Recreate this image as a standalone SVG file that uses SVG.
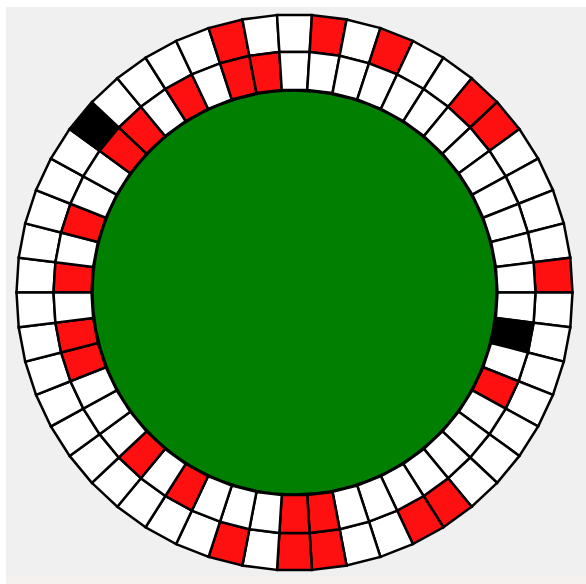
<svg xmlns="http://www.w3.org/2000/svg" xmlns:xlink="http://www.w3.org/1999/xlink" width="586" height="584" viewBox="0 0 586 584">
<style>
.c{stroke:#000;stroke-width:2.5;stroke-linejoin:miter}
.w{fill:#ffffff}
.r{fill:#ff1010}
.b{fill:#000000}
</style>
<defs>
<polygon id="o" points="241,0 278,0 275.808,34.843 239.100,30.205"/>
<polygon id="i" points="203,0 241,0 239.100,30.205 201.399,25.443"/>
</defs>
<rect x="0" y="0" width="586" height="584" fill="#ffffff"/>
<rect x="6" y="7" width="580" height="570" fill="#f0f0f0"/>
<rect x="6" y="577" width="580" height="7" fill="#f4f1ee"/>
<g id="board" transform="translate(294.5,292.5)">
<g id="outer-ring">
<use xlink:href="#o" class="c w" transform="rotate(180)"/>
<use xlink:href="#o" class="c w" transform="rotate(187.2)"/>
<use xlink:href="#o" class="c w" transform="rotate(194.4)"/>
<use xlink:href="#o" class="c w" transform="rotate(201.6)"/>
<use xlink:href="#o" class="c w" transform="rotate(208.8)"/>
<use xlink:href="#o" class="c b" transform="rotate(216)"/>
<use xlink:href="#o" class="c w" transform="rotate(223.2)"/>
<use xlink:href="#o" class="c w" transform="rotate(230.4)"/>
<use xlink:href="#o" class="c w" transform="rotate(237.6)"/>
<use xlink:href="#o" class="c w" transform="rotate(244.8)"/>
<use xlink:href="#o" class="c r" transform="rotate(252)"/>
<use xlink:href="#o" class="c w" transform="rotate(259.2)"/>
<use xlink:href="#o" class="c w" transform="rotate(266.4)"/>
<use xlink:href="#o" class="c r" transform="rotate(273.6)"/>
<use xlink:href="#o" class="c w" transform="rotate(280.8)"/>
<use xlink:href="#o" class="c r" transform="rotate(288)"/>
<use xlink:href="#o" class="c w" transform="rotate(295.2)"/>
<use xlink:href="#o" class="c w" transform="rotate(302.4)"/>
<use xlink:href="#o" class="c r" transform="rotate(309.6)"/>
<use xlink:href="#o" class="c r" transform="rotate(316.8)"/>
<use xlink:href="#o" class="c w" transform="rotate(324)"/>
<use xlink:href="#o" class="c w" transform="rotate(331.2)"/>
<use xlink:href="#o" class="c w" transform="rotate(338.4)"/>
<use xlink:href="#o" class="c w" transform="rotate(345.6)"/>
<use xlink:href="#o" class="c r" transform="rotate(352.8)"/>
<use xlink:href="#o" class="c w" transform="rotate(0)"/>
<use xlink:href="#o" class="c w" transform="rotate(7.2)"/>
<use xlink:href="#o" class="c w" transform="rotate(14.4)"/>
<use xlink:href="#o" class="c w" transform="rotate(21.6)"/>
<use xlink:href="#o" class="c w" transform="rotate(28.8)"/>
<use xlink:href="#o" class="c w" transform="rotate(36)"/>
<use xlink:href="#o" class="c w" transform="rotate(43.2)"/>
<use xlink:href="#o" class="c r" transform="rotate(50.4)"/>
<use xlink:href="#o" class="c r" transform="rotate(57.6)"/>
<use xlink:href="#o" class="c w" transform="rotate(64.8)"/>
<use xlink:href="#o" class="c w" transform="rotate(72)"/>
<use xlink:href="#o" class="c r" transform="rotate(79.2)"/>
<use xlink:href="#o" class="c r" transform="rotate(86.4)"/>
<use xlink:href="#o" class="c w" transform="rotate(93.6)"/>
<use xlink:href="#o" class="c r" transform="rotate(100.8)"/>
<use xlink:href="#o" class="c w" transform="rotate(108)"/>
<use xlink:href="#o" class="c w" transform="rotate(115.2)"/>
<use xlink:href="#o" class="c w" transform="rotate(122.4)"/>
<use xlink:href="#o" class="c w" transform="rotate(129.6)"/>
<use xlink:href="#o" class="c w" transform="rotate(136.8)"/>
<use xlink:href="#o" class="c w" transform="rotate(144)"/>
<use xlink:href="#o" class="c w" transform="rotate(151.2)"/>
<use xlink:href="#o" class="c w" transform="rotate(158.4)"/>
<use xlink:href="#o" class="c w" transform="rotate(165.6)"/>
<use xlink:href="#o" class="c w" transform="rotate(172.8)"/>
</g>
<g id="inner-ring">
<use xlink:href="#i" class="c r" transform="rotate(180)"/>
<use xlink:href="#i" class="c w" transform="rotate(187.2)"/>
<use xlink:href="#i" class="c r" transform="rotate(194.4)"/>
<use xlink:href="#i" class="c w" transform="rotate(201.6)"/>
<use xlink:href="#i" class="c w" transform="rotate(208.8)"/>
<use xlink:href="#i" class="c r" transform="rotate(216)"/>
<use xlink:href="#i" class="c r" transform="rotate(223.2)"/>
<use xlink:href="#i" class="c w" transform="rotate(230.4)"/>
<use xlink:href="#i" class="c r" transform="rotate(237.6)"/>
<use xlink:href="#i" class="c w" transform="rotate(244.8)"/>
<use xlink:href="#i" class="c r" transform="rotate(252)"/>
<use xlink:href="#i" class="c r" transform="rotate(259.2)"/>
<use xlink:href="#i" class="c w" transform="rotate(266.4)"/>
<use xlink:href="#i" class="c w" transform="rotate(273.6)"/>
<use xlink:href="#i" class="c w" transform="rotate(280.8)"/>
<use xlink:href="#i" class="c w" transform="rotate(288)"/>
<use xlink:href="#i" class="c w" transform="rotate(295.2)"/>
<use xlink:href="#i" class="c w" transform="rotate(302.4)"/>
<use xlink:href="#i" class="c w" transform="rotate(309.6)"/>
<use xlink:href="#i" class="c w" transform="rotate(316.8)"/>
<use xlink:href="#i" class="c w" transform="rotate(324)"/>
<use xlink:href="#i" class="c w" transform="rotate(331.2)"/>
<use xlink:href="#i" class="c w" transform="rotate(338.4)"/>
<use xlink:href="#i" class="c w" transform="rotate(345.6)"/>
<use xlink:href="#i" class="c w" transform="rotate(352.8)"/>
<use xlink:href="#i" class="c w" transform="rotate(0)"/>
<use xlink:href="#i" class="c b" transform="rotate(7.2)"/>
<use xlink:href="#i" class="c w" transform="rotate(14.4)"/>
<use xlink:href="#i" class="c r" transform="rotate(21.6)"/>
<use xlink:href="#i" class="c w" transform="rotate(28.8)"/>
<use xlink:href="#i" class="c w" transform="rotate(36)"/>
<use xlink:href="#i" class="c w" transform="rotate(43.2)"/>
<use xlink:href="#i" class="c w" transform="rotate(50.4)"/>
<use xlink:href="#i" class="c w" transform="rotate(57.6)"/>
<use xlink:href="#i" class="c w" transform="rotate(64.8)"/>
<use xlink:href="#i" class="c w" transform="rotate(72)"/>
<use xlink:href="#i" class="c r" transform="rotate(79.2)"/>
<use xlink:href="#i" class="c r" transform="rotate(86.4)"/>
<use xlink:href="#i" class="c w" transform="rotate(93.6)"/>
<use xlink:href="#i" class="c w" transform="rotate(100.8)"/>
<use xlink:href="#i" class="c w" transform="rotate(108)"/>
<use xlink:href="#i" class="c r" transform="rotate(115.2)"/>
<use xlink:href="#i" class="c w" transform="rotate(122.4)"/>
<use xlink:href="#i" class="c r" transform="rotate(129.6)"/>
<use xlink:href="#i" class="c w" transform="rotate(136.8)"/>
<use xlink:href="#i" class="c w" transform="rotate(144)"/>
<use xlink:href="#i" class="c w" transform="rotate(151.2)"/>
<use xlink:href="#i" class="c r" transform="rotate(158.4)"/>
<use xlink:href="#i" class="c r" transform="rotate(165.6)"/>
<use xlink:href="#i" class="c w" transform="rotate(172.8)"/>
</g>
<circle id="center" cx="0" cy="0" r="202" fill="#007f00" stroke="#000" stroke-width="2.5"/>
</g>
</svg>
